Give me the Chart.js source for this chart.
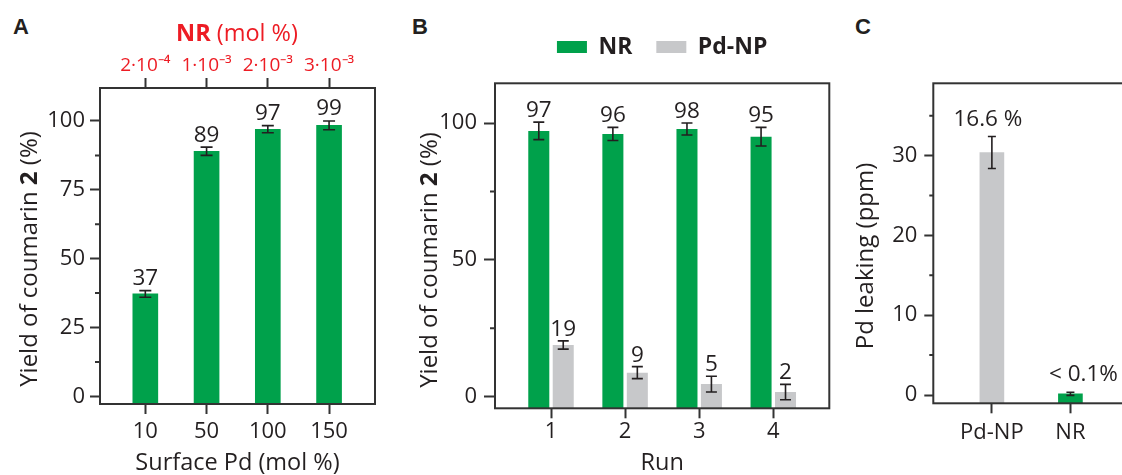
<!DOCTYPE html>
<html>
<head>
<meta charset="utf-8">
<script src="https://cdn.jsdelivr.net/npm/chart.js@4.4.0/dist/chart.umd.min.js"></script>
<style>
  html, body { margin: 0; padding: 0; background: #fff; overflow: hidden; }
  body { width: 1122px; height: 475px; position: relative; }
  canvas { position: absolute; top: 0; }
  .tag { position: absolute; top: 14px; line-height: 1; font: bold 22px "Liberation Sans", Arial, sans-serif; color: #231f20; }
</style>
</head>
<body>
<div class="tag" style="left:13px">A</div>
<div class="tag" style="left:412px">B</div>
<div class="tag" style="left:855px">C</div>
<canvas id="chartA" width="410" height="475" style="left:0"></canvas>
<canvas id="chartB" width="425" height="475" style="left:410px"></canvas>
<canvas id="chartC" width="300" height="475" style="left:835px"></canvas>
<script>
// panel A - yield vs surface Pd
const surfacePd = ['10', '50', '100', '150'];
const nrMol = ['2·10⁻⁴', '1·10⁻³', '2·10⁻³', '3·10⁻³'];
const yieldA = [37.2, 89.0, 97.0, 98.4];
const errA = [1.2, 1.5, 1.3, 1.6];
const labelsA = ['37', '89', '97', '99'];

// panel B - recycling runs
const runs = [1, 2, 3, 4];
const yieldNR = [97.2, 96.1, 97.9, 95.1];
const errNR = [3.2, 2.4, 2.2, 3.4];
const labelsNR = ['97', '96', '98', '95'];
const yieldPdNP = [18.9, 8.8, 4.6, 1.7];
const errPdNP = [1.5, 2.2, 2.9, 2.8];
const labelsPdNP = ['19', '9', '5', '2'];

// panel C - Pd leaking
const catalysts = ['Pd-NP', 'NR'];
const leaking = [30.4, 0.15];
const errLeak = [2.0, 0.2];
const labelsLeak = ['16.6 %', '< 0.1%'];

const INK = '#231f20';
const GREEN = '#00a14b';
const GREY = '#c7c8ca';
const RED = '#ed1c24';
const FONT = "'Open Sans', sans-serif";

Chart.defaults.font.family = FONT;
Chart.defaults.color = INK;
Chart.defaults.animation = false;
Chart.defaults.events = [];
Chart.defaults.plugins.tooltip.enabled = false;
Chart.defaults.plugins.legend.display = false;

function drawRich(ctx, t) {
    ctx.save();
    ctx.translate(t.x, t.y);
    if (t.rotate) ctx.rotate(-Math.PI / 2);
    ctx.fillStyle = t.color || INK;
    ctx.textBaseline = 'alphabetic';
    ctx.textAlign = 'left';
    const fonts = t.parts.map(p => (p[1] ? 'bold ' : '') + t.size + 'px ' + FONT);
    let total = 0;
    t.parts.forEach((p, i) => { ctx.font = fonts[i]; total += ctx.measureText(p[0]).width; });
    let x = -total / 2;
    t.parts.forEach((p, i) => {
        ctx.font = fonts[i];
        ctx.fillText(p[0], x, 0);
        x += ctx.measureText(p[0]).width;
    });
    ctx.restore();
}

// box round the plot, minor y ticks, titles with mixed weight
const frame = {
    id: 'frame',
    afterDraw(chart, args, opts) {
        const {ctx, chartArea: a} = chart;
        const y = chart.scales.y;
        ctx.save();
        ctx.strokeStyle = '#333';
        ctx.lineWidth = 2;
        ctx.strokeRect(a.left, a.top, a.right - a.left, a.bottom - a.top);
        const step = y.ticks[1].value - y.ticks[0].value;
        ctx.beginPath();
        for (let v = y.ticks[0].value - step / 2; v <= y.max; v += step) {
            if (v < y.min) continue;
            const p = y.getPixelForValue(v);
            ctx.moveTo(a.left - opts.minorLength, p);
            ctx.lineTo(a.left, p);
        }
        ctx.stroke();
        (opts.texts || []).forEach(t => drawRich(ctx, t));
        ctx.restore();
    }
};

// error bars and the numbers above them
const barExtras = {
    id: 'barExtras',
    afterDatasetsDraw(chart, args, opts) {
        const {ctx} = chart;
        const y = chart.scales.y;
        ctx.save();
        ctx.strokeStyle = INK;
        ctx.fillStyle = INK;
        ctx.lineWidth = 1.6;
        ctx.font = '22.5px ' + FONT;
        ctx.textAlign = 'center';
        ctx.textBaseline = 'alphabetic';
        chart.data.datasets.forEach((ds, i) => {
            chart.getDatasetMeta(i).data.forEach((bar, j) => {
                const v = ds.data[j].y;
                const e = ds.errors[j];
                const top = y.getPixelForValue(v + e);
                const bot = y.getPixelForValue(v - e);
                ctx.beginPath();
                ctx.moveTo(bar.x, top); ctx.lineTo(bar.x, bot);
                ctx.moveTo(bar.x - opts.cap, top); ctx.lineTo(bar.x + opts.cap, top);
                ctx.moveTo(bar.x - opts.cap, bot); ctx.lineTo(bar.x + opts.cap, bot);
                ctx.stroke();
                const dx = opts.shift ? opts.shift[j] : 0;
                ctx.fillText(ds.valueLabels[j], bar.x + dx, top - opts.gap);
            });
        });
        ctx.restore();
    }
};

function yAxis(range, step, width, tickLen, pad) {
    return {
        type: 'linear', min: range[0], max: range[1], bounds: 'data',
        afterBuildTicks: s => {
            const t = [];
            for (let v = Math.ceil(s.min / step) * step; v <= s.max; v += step) t.push({value: v});
            s.ticks = t;
        },
        ticks: {padding: pad, font: {size: 22}, color: INK},
        grid: {drawOnChartArea: false, tickLength: tickLen, tickWidth: 2, tickColor: '#333'},
        border: {display: false},
        afterFit: s => { s.width = width; }
    };
}

function xAxis(o) {
    return {
        type: 'linear', position: o.position || 'bottom', min: o.range[0], max: o.range[1],
        bounds: 'data', offset: false,
        afterBuildTicks: s => { s.ticks = o.values.map(v => ({value: v})); },
        ticks: {
            autoSkip: false, maxRotation: 0, padding: o.pad,
            font: {size: o.size || 22}, color: o.color || INK,
            callback: v => o.labels[o.values.indexOf(v)]
        },
        grid: {offset: false, drawOnChartArea: false, tickLength: 10, tickWidth: 2, tickColor: '#333'},
        border: {display: false},
        title: o.title
            ? {display: true, text: o.title, font: {size: 23.5, lineHeight: 1}, padding: 0, color: INK}
            : {display: false},
        afterFit: s => { s.height = o.height; }
    };
}

const yTitle = [['Yield of coumarin ', false], ['2', true], [' (%)', false]];

// A
const yRangeA = [-2.75, 111.96];
const xRangeA = [-0.74, 3.75];
const idxA = surfacePd.map((c, i) => i);
new Chart(document.getElementById('chartA'), {
    type: 'bar',
    data: {
        datasets: [{
            data: yieldA.map((v, i) => ({x: i, y: v})),
            backgroundColor: GREEN,
            barThickness: 25,
            base: yRangeA[0],
            errors: errA,
            valueLabels: labelsA
        }]
    },
    options: {
        responsive: false,
        layout: {padding: {left: 0, right: 35, top: 0, bottom: 0}},
        scales: {
            x: xAxis({range: xRangeA, values: idxA, labels: surfacePd, pad: 5, height: 71, title: 'Surface Pd (mol %)'}),
            x2: xAxis({position: 'top', range: xRangeA, values: idxA, labels: nrMol, pad: 1, height: 88, size: 19, color: RED}),
            y: yAxis(yRangeA, 25, 100, 10, 5)
        },
        plugins: {
            frame: {
                minorLength: 5,
                texts: [
                    {parts: yTitle, x: 36.5, y: 259, rotate: true, size: 24},
                    {parts: [['NR', true], [' (mol %)', false]], x: 237, y: 40.5, size: 23.5, color: RED}
                ]
            },
            barExtras: {cap: 6, gap: 5.5}
        }
    },
    plugins: [frame, barExtras]
});

// B
const yRangeB = [-4.24, 114.6];
const xRangeB = [0.244, 4.756];
new Chart(document.getElementById('chartB'), {
    type: 'bar',
    data: {
        datasets: [{
            label: 'NR',
            data: yieldNR.map((v, i) => ({x: runs[i], y: v})),
            backgroundColor: GREEN,
            categoryPercentage: 0.66, barPercentage: 0.86,
            base: yRangeB[0],
            errors: errNR,
            valueLabels: labelsNR
        }, {
            label: 'Pd-NP',
            data: yieldPdNP.map((v, i) => ({x: runs[i], y: v})),
            backgroundColor: GREY,
            categoryPercentage: 0.66, barPercentage: 0.86,
            base: yRangeB[0],
            errors: errPdNP,
            valueLabels: labelsPdNP
        }]
    },
    options: {
        responsive: false,
        layout: {padding: {left: 0, right: 5.7, top: 11.5, bottom: 0}},
        scales: {
            x: xAxis({range: xRangeB, values: runs, labels: runs.map(String), pad: 0, height: 66.7, title: 'Run'}),
            gap: {
                type: 'linear', position: 'top', min: xRangeB[0], max: xRangeB[1], display: true,
                ticks: {display: false}, grid: {display: false}, border: {display: false},
                afterFit: s => { s.height = 14.8; }
            },
            y: yAxis(yRangeB, 50, 85, 11, 7)
        },
        plugins: {
            legend: {
                display: true, position: 'top', fullSize: false, align: 'center',
                labels: {boxWidth: 30, boxHeight: 12, padding: 24, color: INK, font: {size: 23, weight: 'bold'}}
            },
            frame: {
                minorLength: 5,
                texts: [{parts: yTitle, x: 27.3, y: 260, rotate: true, size: 24}]
            },
            barExtras: {cap: 5.5, gap: 5}
        }
    },
    plugins: [frame, barExtras]
});

// C
const yRangeC = [-1.04, 39.07];
const xRangeC = [-0.746, 1.746];
const idxC = catalysts.map((c, i) => i);
new Chart(document.getElementById('chartC'), {
    type: 'bar',
    data: {
        datasets: [{
            data: leaking.map((v, i) => ({x: i, y: v})),
            backgroundColor: [GREY, GREEN],
            barThickness: 24,
            base: yRangeC[0],
            errors: errLeak,
            valueLabels: labelsLeak
        }]
    },
    options: {
        responsive: false,
        layout: {padding: {left: 0, right: 6, top: 83.3, bottom: 0}},
        scales: {
            x: xAxis({range: xRangeC, values: idxC, labels: catalysts, pad: 6.5, height: 71.7}),
            y: yAxis(yRangeC, 10, 98.3, 9, 7)
        },
        plugins: {
            frame: {
                minorLength: 4,
                texts: [{parts: [['Pd leaking (ppm)', false]], x: 38.3, y: 256, rotate: true, size: 24}]
            },
            barExtras: {cap: 4, gap: 11, shift: [-4, 13]}
        }
    },
    plugins: [frame, barExtras]
});
</script>
</body>
</html>
